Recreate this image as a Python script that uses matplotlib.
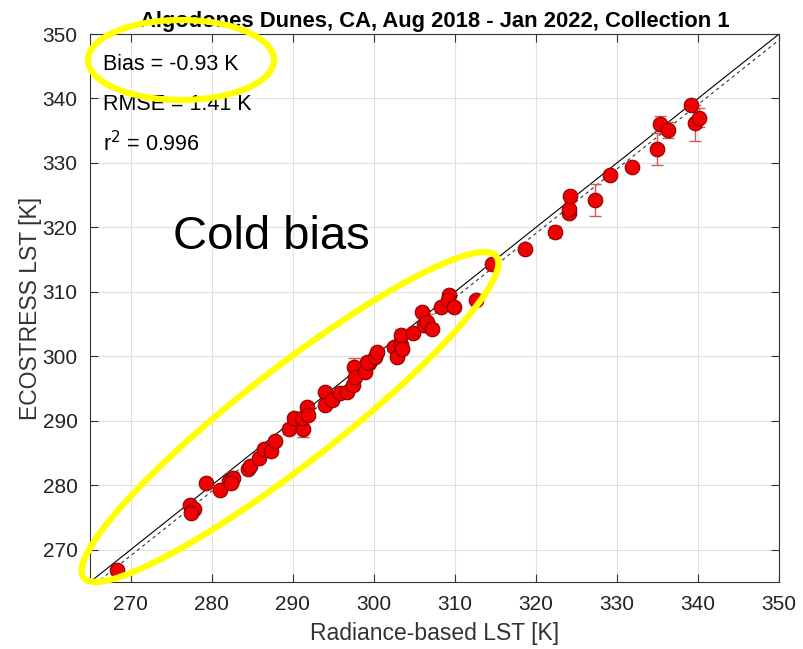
import numpy as np
import matplotlib
matplotlib.use("Agg")
import matplotlib.pyplot as plt
from matplotlib.patches import Ellipse

plt.rcParams['font.family'] = ['Liberation Sans', 'DejaVu Sans']

# radiance-based LST (x) and ECOSTRESS LST (y), K
rad_lst = [268.3, 277.4, 277.3, 277.8, 277.4, 279.3, 281.0, 282.2, 282.6, 282.4,
           284.5, 284.7, 285.9, 286.5, 287.3, 287.8, 289.6, 290.1, 291.3, 291.1,
           291.8, 291.9, 294.0, 294.0, 294.8, 295.8, 296.7, 297.5, 297.6, 297.7,
           298.9, 299.4, 299.2, 300.2, 300.4, 302.5, 302.9, 303.3, 303.3, 303.5,
           304.9, 306.0, 306.2, 306.6, 307.2, 308.3, 309.3, 309.2, 309.9, 312.6,
           314.6, 318.7, 322.4, 324.1, 324.1, 324.2, 327.3, 329.1, 331.8, 334.9,
           335.3, 336.3, 339.1, 339.6, 340.1]
eco_lst = [266.8, 276.7, 276.9, 276.4, 275.7, 280.4, 279.3, 280.6, 281.1, 280.4,
           282.6, 283.0, 284.3, 285.7, 285.3, 286.8, 288.8, 290.4, 288.8, 290.4,
           292.2, 290.9, 294.5, 292.4, 293.2, 294.3, 294.5, 295.5, 298.4, 296.8,
           297.6, 298.9, 299.2, 299.9, 300.7, 301.5, 299.9, 301.7, 303.3, 301.2,
           303.6, 306.9, 304.8, 305.4, 304.3, 307.7, 309.5, 308.7, 307.7, 308.8,
           314.3, 316.7, 319.3, 322.3, 322.9, 324.8, 324.3, 328.1, 329.3, 332.2,
           336.1, 335.1, 339.0, 336.2, 337.0]
eco_err = [0.3, 0.5, 0.4, 0.3, 0.4, 0.3, 0.4, 0.5, 0.9, 0.4,
           0.3, 0.4, 0.5, 0.6, 0.5, 0.6, 0.5, 0.5, 1.3, 0.6,
           0.5, 0.6, 0.5, 0.4, 0.5, 0.6, 0.5, 0.7, 1.3, 0.6,
           0.5, 0.6, 0.5, 0.6, 0.5, 0.6, 0.5, 0.6, 1.0, 0.6,
           0.6, 0.6, 1.0, 1.2, 0.7, 0.6, 0.6, 0.6, 0.6, 0.4,
           0.4, 0.5, 0.9, 0.6, 0.6, 0.8, 2.5, 0.5, 0.5, 2.5,
           1.2, 1.3, 0.6, 2.8, 1.5]

bias = -0.93
stats_text = ["Bias = -0.93 K", "RMSE = 1.41 K", "r$^2$ = 0.996"]

fig = plt.figure(figsize=(8.04, 6.49), dpi=100)
ax = fig.add_axes([0.112, 0.1032, 0.857, 0.8444])

lims = np.array([265, 350])
ax.plot(lims, lims, color='black', lw=0.8, zorder=2)
ax.plot(lims, lims + bias, color='#333333', lw=0.8, ls=(0, (3, 3)), zorder=2)

ax.errorbar(rad_lst, eco_lst, yerr=eco_err, fmt='none', ecolor='#cc5a5a',
            elinewidth=1.0, capsize=4, capthick=1.0, zorder=3)
ax.plot(rad_lst, eco_lst, 'o', color='#f00000', mec='#8b0000', mew=0.8,
        ms=10.5, zorder=4)

ax.set_xlim(lims)
ax.set_ylim(lims)
ax.set_xticks(range(270, 351, 10))
ax.set_yticks(range(270, 351, 10))
ax.grid(True, color='#e0e0e0', lw=0.8)
ax.set_axisbelow(True)
ax.tick_params(direction='in', top=True, right=True, labelsize=15, length=6,
               color='#333333', labelcolor='#222222', pad=9)
for s in ax.spines.values():
    s.set_color('#333333')
    s.set_linewidth(0.8)
ax.set_xlabel("Radiance-based LST [K]", fontsize=16.5, color='#333333', labelpad=6)
ax.set_ylabel("ECOSTRESS LST [K]", fontsize=16.5, color='#333333', labelpad=0)
ax.set_title("Algodones Dunes, CA, Aug 2018 - Jan 2022, Collection 1",
             fontsize=15.8, fontweight='bold', pad=5)

for i, t in enumerate(stats_text):
    ax.text(266.6, 345.2 - i * 6.1, t, fontsize=15.5, va='center', ha='left')

ax.text(275.2, 318.5, "Cold bias", fontsize=34, va='center', ha='left')

# yellow highlight ellipses drawn in pixel space over the whole figure
ov = fig.add_axes([0, 0, 1, 1], facecolor='none')
ov.set_xlim(0, 804)
ov.set_ylim(649, 0)
ov.axis('off')
ov.add_patch(Ellipse((181, 60), 186, 80, fill=False, ec='#ffff00', lw=4.5))
ov.add_patch(Ellipse((290, 417), 523, 95, angle=-37.9, fill=False,
                     ec='#ffff00', lw=4.5))

fig.savefig("out.png", dpi=100)
